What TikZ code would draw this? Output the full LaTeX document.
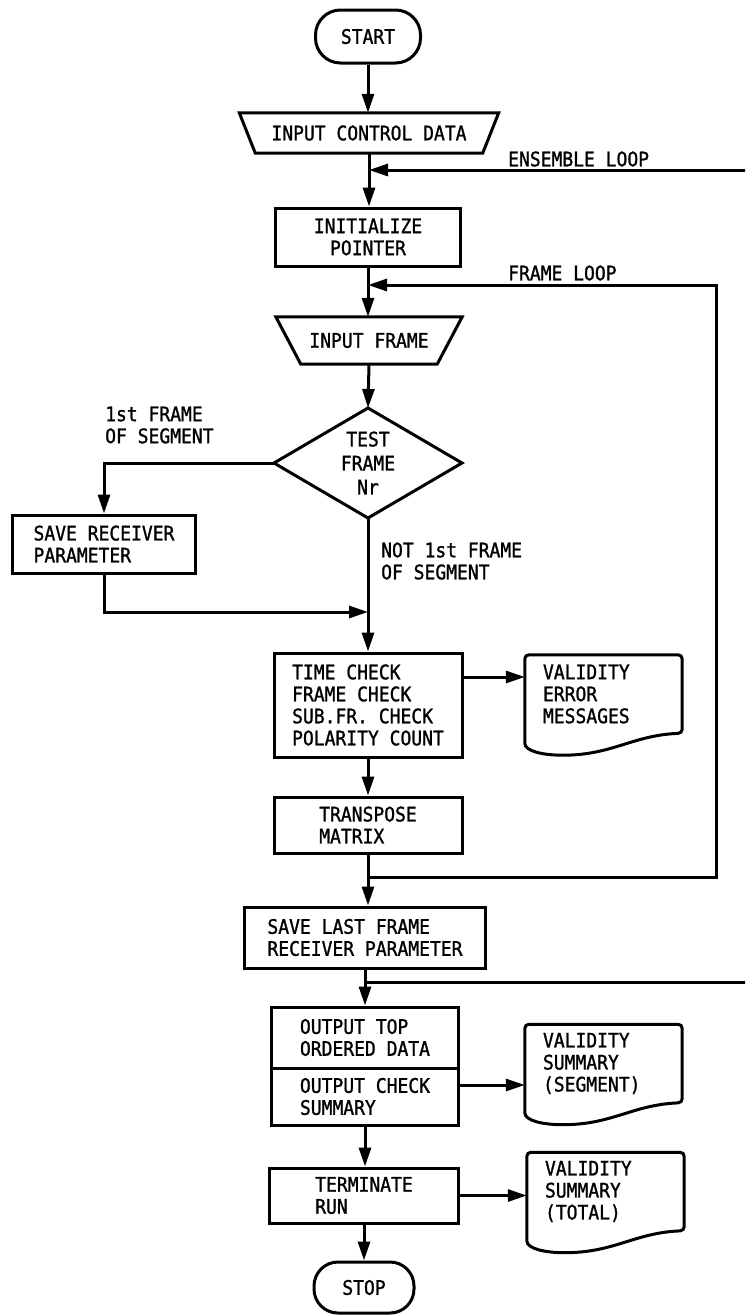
\documentclass[tikz,border=0pt]{standalone}
\usepackage{fontspec}
\newfontfamily\lettering[FakeStretch=0.9,FakeBold=1.2]{DejaVu Sans Mono}
\usetikzlibrary{arrows.meta,calc}

\tikzset{
  flow/.style={line width=3pt},
  arr/.style={flow, -{Triangle[length=19pt,width=12pt]}},
  txt/.style={font={\lettering\fontsize{20pt}{22pt}\selectfont}},
  box/.style={txt, draw, line width=3pt, rectangle, inner sep=0pt, align=left},
  termbox/.style={txt, draw, line width=3pt, rectangle, inner sep=0pt, align=center},
  plain/.style={txt, rectangle, inner sep=0pt, align=center},
  docbox/.style={txt, rectangle, inner xsep=18pt, inner ysep=0pt, text width=121pt,
    minimum height=78pt, align=left},
  lbl/.style={txt, inner sep=0pt, align=left}
}

% document symbol with a wavy lower edge, drawn around a named node
\newcommand\docoutline[1]{%
  \draw[flow] (#1.south east)
    .. controls +(-50pt,-2pt) and +(50pt,0pt) .. ($(#1.south west)+(38pt,-22pt)$)
    .. controls +(-20pt,0pt) and +(0pt,-8pt) .. ($(#1.south west)+(0pt,-10pt)$)
    [rounded corners=4pt] -- (#1.north west) -- (#1.north east) -- cycle;}

\begin{document}
\begin{tikzpicture}[x=1pt,y=1pt]
\useasboundingbox (0,0) rectangle (745,-1315);
\clip (0,0) rectangle (745,-1315);

% terminal and input nodes
\node[termbox, rounded corners=25pt, minimum width=105pt, minimum height=53pt] (start) at (368,-36.5) {START};
\node[plain, minimum width=227pt, minimum height=40pt] (icd) at (369,-133) {INPUT CONTROL DATA};
\draw[flow] (icd.south west) -- ([xshift=-16pt]icd.north west) -- ([xshift=16pt]icd.north east) -- (icd.south east) -- cycle;

\node[termbox, minimum width=185pt, minimum height=58pt] (init) at (368,-237) {INITIALIZE\\POINTER};

\node[plain, minimum width=136pt, minimum height=47pt] (iframe) at (369,-340.5) {INPUT FRAME};
\draw[flow] (iframe.south west) -- ([xshift=-25pt]iframe.north west) -- ([xshift=25pt]iframe.north east) -- (iframe.south east) -- cycle;

% decision
\node[lbl, align=center, font={\lettering\fontsize{20pt}{24pt}\selectfont}] (test) at (368,-463) {TEST\\FRAME\\Nr};
\coordinate (test-n) at ([yshift=55pt]test.center);
\coordinate (test-s) at ([yshift=-55pt]test.center);
\coordinate (test-e) at ([xshift=94pt]test.center);
\coordinate (test-w) at ([xshift=-94pt]test.center);
\draw[flow] (test-n) -- (test-e) -- (test-s) -- (test-w) -- cycle;

% process boxes
\node[box, minimum width=183pt, minimum height=58pt] (save) at (104,-544) {SAVE RECEIVER\\PARAMETER};
\node[box, minimum width=188pt, minimum height=104pt] (check) at (368,-705) {TIME CHECK\\FRAME CHECK\\SUB.FR. CHECK\\POLARITY COUNT};
\node[box, minimum width=188pt, minimum height=56pt] (transp) at (368,-825) {TRANSPOSE\\MATRIX};
\node[box, minimum width=241pt, minimum height=61pt] (savelast) at (365,-937.5) {SAVE LAST FRAME\\RECEIVER PARAMETER};
\node[box, minimum width=187pt, minimum height=61pt] (outdata) at (365,-1037.5) {OUTPUT TOP\\ORDERED DATA};
\node[box, minimum width=187pt, minimum height=57pt] (outsum) at (365,-1096.5) {OUTPUT CHECK\\SUMMARY};
\node[box, minimum width=189pt, minimum height=55pt] (term) at (364,-1195.5) {TERMINATE\\RUN};
\node[termbox, rounded corners=24pt, minimum width=100pt, minimum height=51pt] (stop) at (364,-1287.5) {STOP};

% documents
\node[docbox] (errdoc) at (603.5,-694) {VALIDITY\\ERROR\\MESSAGES};
\docoutline{errdoc}
\node[docbox] (segdoc) at (603.5,-1063.5) {VALIDITY\\SUMMARY\\(SEGMENT)};
\docoutline{segdoc}
\node[docbox] (totdoc) at (605.5,-1191.5) {VALIDITY\\SUMMARY\\(TOTAL)};
\docoutline{totdoc}

% labels
\node[lbl, anchor=west] (lens) at (508,-159) {ENSEMBLE LOOP};
\node[lbl, anchor=west] (lframe) at (508,-273) {FRAME LOOP};
\node[lbl, anchor=west] (lfirst) at (105,-425) {1st FRAME\\OF SEGMENT};
\node[lbl, anchor=west] (lnotfirst) at (381,-561) {NOT 1st FRAME\\OF SEGMENT};

% junction points
\coordinate (ensin) at (369,-170);
\coordinate (frin) at (368,-285);
\coordinate (merge) at (368,-612);
\coordinate (frout) at (368,-877);
\coordinate (ensout) at (365,-982);
\coordinate (chkout) at ([yshift=28pt]check.east);
\coordinate (sumout) at ([yshift=11.5pt]outsum.east);

% main flow
\draw[arr] (start.south) -- (start.south |- icd.north);
\draw[arr] (icd.south) -- (icd.south |- init.north);
\draw[arr] (init.south) -- (init.south |- iframe.north);
\draw[arr] (iframe.south) -- (test-n);
\draw[arr] (test-w) -| (save.north);
\draw[arr] (test-s) -- (test-s |- check.north);
\draw[arr] (save.south) |- (merge);
\draw[arr] (chkout) -- (chkout -| errdoc.west);
\draw[arr] (check.south) -- (check.south |- transp.north);
\draw[arr] (transp.south) -- (transp.south |- savelast.north);
\draw[arr] (savelast.south) -- (savelast.south |- outdata.north);
\draw[arr] (sumout) -- (sumout -| segdoc.west);
\draw[arr] (outsum.south) -- (outsum.south |- term.north);
\draw[arr] (term.east) -- (term.east -| totdoc.west);
\draw[arr] (term.south) -- (term.south |- stop.north);

% loops
\draw[arr] (frout) -- ++(348,0) |- (frin);
\draw[arr] (ensout) -- ++(395,0) |- (ensin);
\end{tikzpicture}
\end{document}
